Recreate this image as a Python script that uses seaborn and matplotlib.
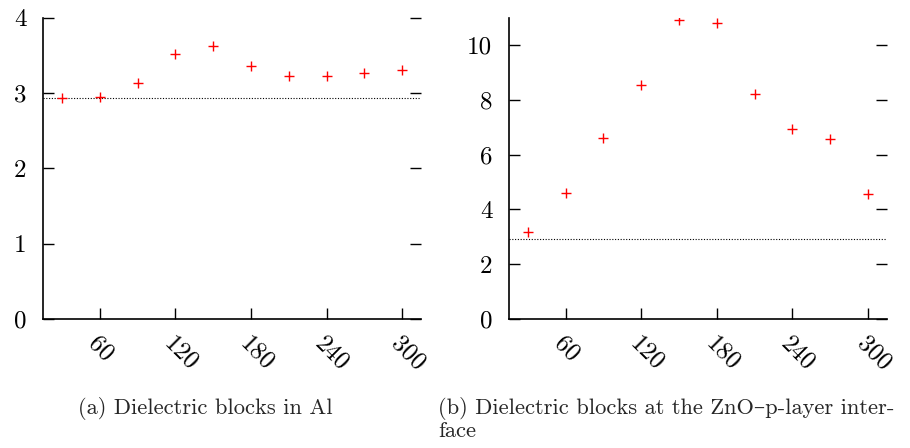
import matplotlib
matplotlib.use("Agg")
import matplotlib.pyplot as plt
import seaborn as sns
import pandas as pd

# Block widths and effective permittivity values
widths = [30, 60, 90, 120, 150, 180, 210, 240, 270, 300]
eps_al = [2.94, 2.95, 3.13, 3.52, 3.62, 3.36, 3.22, 3.22, 3.27, 3.31]
eps_zno = [3.16, 4.61, 6.62, 8.54, 10.90, 10.81, 8.20, 6.95, 6.57, 4.58]
eps_ref = 2.93

x_ticks = [60, 120, 180, 240, 300]
y_ticks_a = [0, 1, 2, 3, 4]
y_ticks_b = [0, 2, 4, 6, 8, 10]
caption_a = "(a) Dielectric blocks in Al"
caption_b = ["(b) Dielectric blocks at the ZnO\u2013p-layer inter-", "face"]

sns.set_style("ticks")
plt.rcParams["font.family"] = ["cmr10", "DejaVu Serif"]
plt.rcParams["mathtext.fontset"] = "cm"
plt.rcParams["axes.formatter.use_mathtext"] = True
plt.rcParams["axes.unicode_minus"] = False

fig = plt.figure(figsize=(9.10, 4.48), dpi=100)
ax_a = fig.add_axes([0.0473, 0.2879, 0.4154, 0.6726])
ax_b = fig.add_axes([0.5593, 0.2879, 0.4154, 0.6729])

df_a = pd.DataFrame({"width": widths, "eps": eps_al})
df_b = pd.DataFrame({"width": widths, "eps": eps_zno})

for ax, df, yt, ylim in [(ax_a, df_a, y_ticks_a, (0, 4)),
                         (ax_b, df_b, y_ticks_b, (0, 11))]:
    ax.axhline(eps_ref, color="black", linestyle=(0, (1, 1.5)), linewidth=0.8, zorder=1)
    sns.scatterplot(data=df, x="width", y="eps", ax=ax, marker="+",
                    color="red", s=60, linewidth=1.0, zorder=3)
    ax.set_xlim(15, 315)
    ax.set_ylim(*ylim)
    ax.set_xticks(x_ticks)
    ax.set_xticklabels([str(t) for t in x_ticks], rotation=-45,
                       ha="left", va="top", rotation_mode="anchor")
    ax.set_yticks(yt)
    ax.set_yticklabels([str(t) for t in yt])
    ax.set_xlabel("")
    ax.set_ylabel("")
    ax.tick_params(axis="both", direction="in", length=8, width=1,
                   labelsize=18, colors="black")
    ax.tick_params(axis="y", right=True, pad=12)
    ax.tick_params(axis="x", pad=10)
    for side in ["top", "right"]:
        ax.spines[side].set_visible(False)
    for side in ["left", "bottom"]:
        ax.spines[side].set_linewidth(1.2)
        ax.spines[side].set_color("black")

fig.text(0.2258, 0.0759, caption_a, ha="center", va="baseline", fontsize=16.2)
fig.text(0.4813, 0.0759, caption_b[0], ha="left", va="baseline", fontsize=16.2)
fig.text(0.4813, 0.0252, caption_b[1], ha="left", va="baseline", fontsize=16.2)

fig.savefig("out.png", dpi=100)
